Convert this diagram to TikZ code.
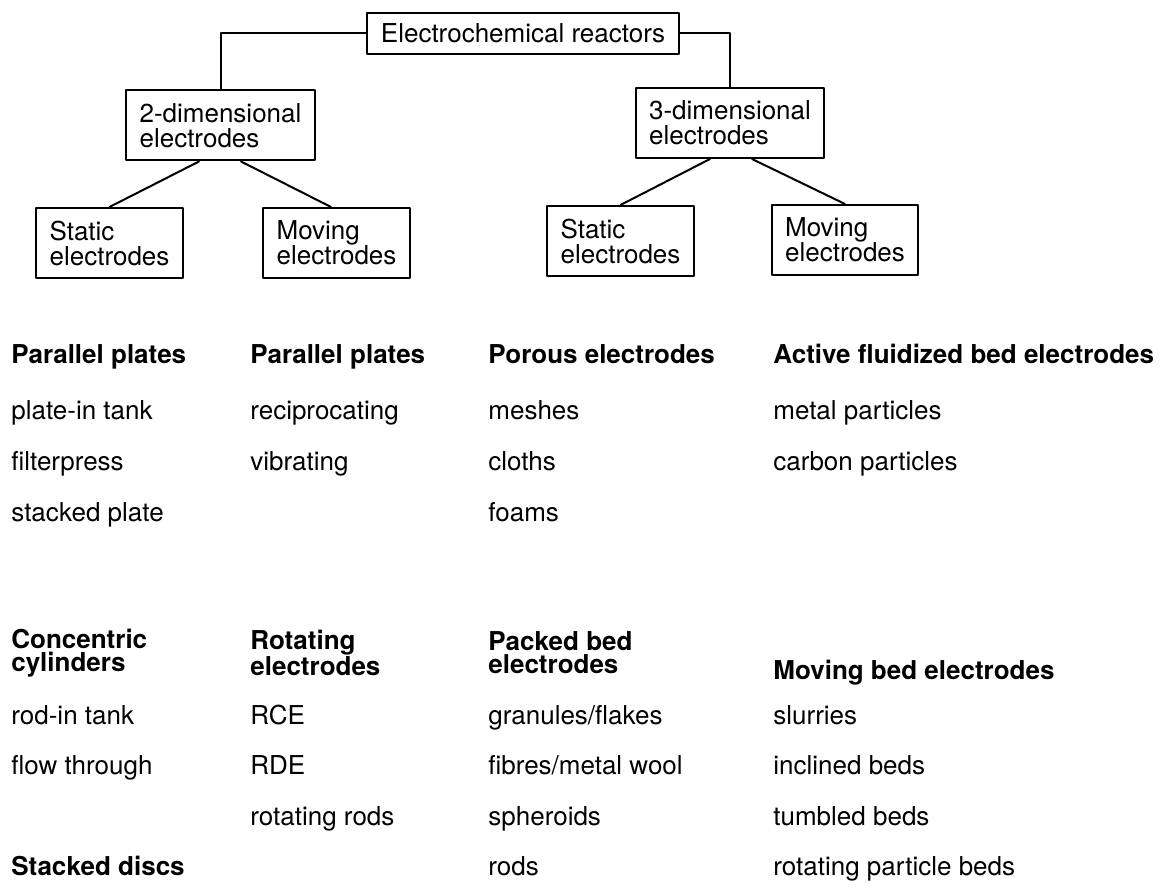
\documentclass[tikz,border=0pt]{standalone}
\usepackage{fontspec}
\setmainfont{TeX Gyre Heros}
\usetikzlibrary{calc}

\begin{document}
\begin{tikzpicture}[x=0.5pt, y=-0.5pt, line cap=round, line join=round,
    every node/.style={font=\fontsize{13}{12.5}\selectfont},
    box/.style={draw, line width=1pt, align=left, inner xsep=6.75pt, minimum height=35pt},
    head/.style={anchor=base west, inner sep=0pt, font=\fontsize{13}{11.5}\selectfont\bfseries},
    headtwo/.style={anchor=west, align=left, inner sep=0pt, font=\fontsize{13}{11.5}\selectfont\bfseries},
    item/.style={anchor=base west, inner sep=0pt}]
    \useasboundingbox (0,0) rectangle (1164,888);

    % The tree of boxes
    \node[box, minimum height=20.5pt] (reactors) at (523,33.5) {Electrochemical reactors};
    \node[box] (twoD) at (220.5,125.5) {2-dimensional\\electrodes};
    \node[box] (threeD) at (730,123) {3-dimensional\\electrodes};
    \node[box] (staticTwo) at (109.5,243) {Static\\electrodes};
    \node[box] (movingTwo) at (336.5,243) {Moving\\electrodes};
    \node[box] (staticThree) at (620.5,241) {Static\\electrodes};
    \node[box] (movingThree) at (845,240) {Moving\\electrodes};

    % Connectors between the boxes
    \draw[line width=1pt] (reactors.west) -| (twoD.north);
    \draw[line width=1pt] (reactors.east) -| (threeD.north);
    \draw[line width=1pt] ([xshift=-10.75pt]twoD.south) -- (staticTwo.north);
    \draw[line width=1pt] ([xshift=10.25pt]twoD.south) -- ([xshift=-2.75pt]movingTwo.north);
    \draw[line width=1pt] ([xshift=-10pt]threeD.south) -- (staticThree.north);
    \draw[line width=1pt] ([xshift=11pt]threeD.south) -- (movingThree.north);

    % First group of lists
    \node[head] (ppStatic) at (11,364) {Parallel plates};
    \node[item] (plateTank) at (11,419) {plate-in tank};
    \node[item] (filterpress) at (11,470) {filterpress};
    \node[item] (stackedPlate) at (11,521) {stacked plate};

    \node[head] (ppMoving) at (250,364) {Parallel plates};
    \node[item] (reciprocating) at (250,419) {reciprocating};
    \node[item] (vibrating) at (250,470) {vibrating};

    \node[head] (porous) at (488,364) {Porous electrodes};
    \node[item] (meshes) at (488,419) {meshes};
    \node[item] (cloths) at (488,470) {cloths};
    \node[item] (foams) at (488,521) {foams};

    \node[head] (fluidized) at (773,364) {Active fluidized bed electrodes};
    \node[item] (metalPart) at (773,419) {metal particles};
    \node[item] (carbonPart) at (773,470) {carbon particles};

    % Second group of lists
    \node[headtwo] (concentric) at (11,653) {Concentric\\cylinders};
    \node[item] (rodTank) at (11,724) {rod-in tank};
    \node[item] (flowThrough) at (11,774) {flow through};
    \node[head] (stackedDiscs) at (11,875) {Stacked discs};

    \node[headtwo] (rotating) at (250,653) {Rotating\\electrodes};
    \node[item] (rce) at (250,724) {RCE};
    \node[item] (rde) at (250,774) {RDE};
    \node[item] (rotRods) at (250,825) {rotating rods};

    \node[headtwo] (packed) at (488,653) {Packed bed\\electrodes};
    \node[item] (granules) at (488,724) {granules/flakes};
    \node[item] (fibres) at (488,774) {fibres/metal wool};
    \node[item] (spheroids) at (488,825) {spheroids};
    \node[item] (rods) at (488,875) {rods};

    \node[head] (movingBed) at (773,679) {Moving bed electrodes};
    \node[item] (slurries) at (773,724) {slurries};
    \node[item] (inclined) at (773,774) {inclined beds};
    \node[item] (tumbled) at (773,825) {tumbled beds};
    \node[item] (rotParticle) at (773,875) {rotating particle beds};
\end{tikzpicture}
\end{document}
